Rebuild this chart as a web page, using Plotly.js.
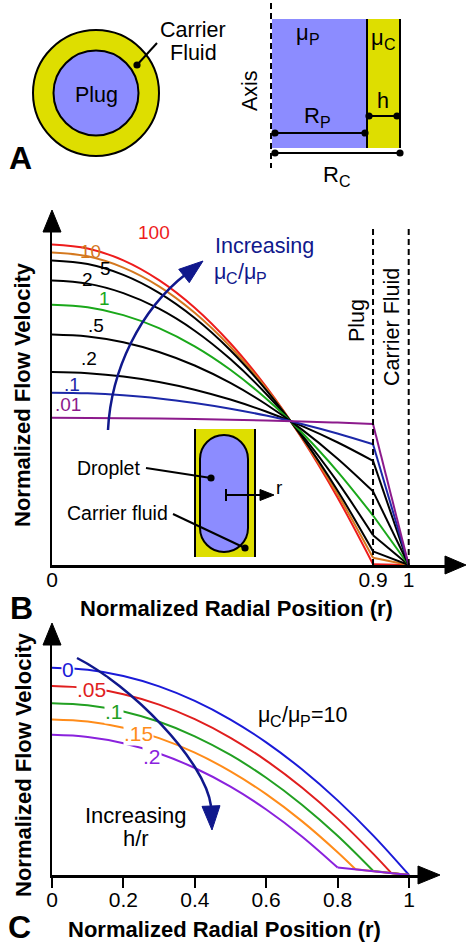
<!DOCTYPE html>
<html><head><meta charset="utf-8">
<script src="https://cdn.plot.ly/plotly-3.0.1.min.js"></script>
<style>html,body{margin:0;padding:0;background:#fff;}#chart{width:466px;height:945px;}</style>
</head><body><div id="chart"></div>
<script>
// ---------- DATA ----------
// Panel B: normalized velocity vs radial position for viscosity ratios muC/muP
const rB = [0, 0.1, 0.2, 0.3, 0.4, 0.5, 0.6, 0.7, 0.8, 0.9, 1.0];
const ratioLabels = ['100', '10', '5', '2', '1', '.5', '.2', '.1', '.01'];
const vB100 = [2.462, 2.432, 2.341, 2.189, 1.977, 1.704, 1.370, 0.976, 0.521, 0.006, 0];
const vB10  = [2.401, 2.372, 2.285, 2.141, 1.938, 1.677, 1.359, 0.982, 0.547, 0.055, 0];
const vB5   = [2.340, 2.312, 2.229, 2.091, 1.898, 1.650, 1.346, 0.988, 0.574, 0.105, 0];
const vB2   = [2.186, 2.162, 2.089, 1.969, 1.800, 1.582, 1.316, 1.002, 0.640, 0.229, 0];
const vB1   = [2.000, 1.980, 1.920, 1.820, 1.680, 1.500, 1.280, 1.020, 0.720, 0.380, 0];
const vB05  = [1.771, 1.756, 1.712, 1.637, 1.533, 1.399, 1.235, 1.042, 0.819, 0.566, 0];
const vB02  = [1.482, 1.473, 1.448, 1.406, 1.347, 1.271, 1.179, 1.069, 0.943, 0.800, 0];
const vB01  = [1.324, 1.319, 1.304, 1.280, 1.245, 1.201, 1.148, 1.084, 1.011, 0.928, 0];
const vB001 = [1.131, 1.130, 1.128, 1.125, 1.121, 1.116, 1.110, 1.103, 1.094, 1.084, 0];
const plugEdgeB = 0.9;               // plug / carrier interface
const xTicksB = [0, 0.9, 1];
const xTickTextB = ['0', '0.9', '1'];

// Panel C: normalized velocity for film thickness h/r (muC/muP = 10)
const hLabels = ['0', '.05', '.1', '.15', '.2'];
const plugEdgeC = [1.0, 0.95, 0.9, 0.85, 0.8];
const rC0   = [0, 0.1, 0.2, 0.3, 0.4, 0.5, 0.6, 0.7, 0.8, 0.9, 1.0];
const vC0   = [1.000, 0.990, 0.960, 0.910, 0.840, 0.750, 0.640, 0.510, 0.360, 0.190, 0];
const rC05  = [0, 0.1, 0.2, 0.3, 0.4, 0.5, 0.6, 0.7, 0.8, 0.9, 0.95, 1.0];
const vC05  = [0.912, 0.902, 0.872, 0.822, 0.752, 0.662, 0.552, 0.422, 0.272, 0.102, 0.010, 0];
const rC10  = [0, 0.1, 0.2, 0.3, 0.4, 0.5, 0.6, 0.7, 0.8, 0.9, 1.0];
const vC10  = [0.829, 0.819, 0.789, 0.739, 0.669, 0.579, 0.469, 0.339, 0.189, 0.019, 0];
const rC15  = [0, 0.1, 0.2, 0.3, 0.4, 0.5, 0.6, 0.7, 0.8, 0.85, 0.9, 0.95, 1.0];
const vC15  = [0.750, 0.740, 0.710, 0.660, 0.590, 0.500, 0.390, 0.260, 0.110, 0.028, 0.019, 0.010, 0];
const rC20  = [0, 0.1, 0.2, 0.3, 0.4, 0.5, 0.6, 0.7, 0.8, 0.9, 1.0];
const vC20  = [0.676, 0.666, 0.636, 0.586, 0.516, 0.426, 0.316, 0.186, 0.036, 0.019, 0];
const xTicksC = [0, 0.2, 0.4, 0.6, 0.8, 1];
const xTickTextC = ['0', '0.2', '0.4', '0.6', '0.8', '1'];

// ---------- STYLE / GEOMETRY ----------
const W = 466, H = 945;
const px = x => x / W, py = y => 1 - y / H;
const FONTNAME = 'Liberation Sans';
const FONT = 'Liberation Sans, Arial, Helvetica, sans-serif';
const YEL = '#dede00', BLU = '#8c8cff', NAVY = '#10188c';
const colB = ['#ee1c1c', '#d4781e', '#000000', '#000000', '#1aa81a', '#000000', '#000000', '#1c28a8', '#8c1a8c'];
const colC = ['#1a1ad8', '#e01e1e', '#22a022', '#ff8c1a', '#8a22dd'];

const Bf = {x0: 52, sx: 356.7, y0: 565, sy: 130.15, xEnd: 448, yTop: 222};
const Cf = {x0: 52, sx: 357, y0: 875, sy: 207.3, xEnd: 422, yTop: 640};

const traces = [];
// each profile: smooth inside the plug, straight through the thin carrier film
function addProfile(r, v, edge, color, xa, ya, name) {
  const pr = [], pv = [], cr = [], cv = [];
  r.forEach((x, i) => {
    if (x <= edge + 1e-9) { pr.push(x); pv.push(v[i]); }
    if (x >= edge - 1e-9) { cr.push(x); cv.push(v[i]); }
  });
  traces.push({x: pr, y: pv, xaxis: xa, yaxis: ya, mode: 'lines', name: name,
    line: {color: color, width: 2, shape: 'spline', smoothing: 1}, hoverinfo: 'skip'});
  if (cr.length > 1) traces.push({x: cr, y: cv, xaxis: xa, yaxis: ya, mode: 'lines', name: name,
    line: {color: color, width: 2}, hoverinfo: 'skip'});
}
const seriesB = [vB100, vB10, vB5, vB2, vB1, vB05, vB02, vB01, vB001];
seriesB.forEach((v, i) => addProfile(rB, v, plugEdgeB, colB[i], 'x', 'y', ratioLabels[i]));
const seriesC = [[rC0, vC0], [rC05, vC05], [rC10, vC10], [rC15, vC15], [rC20, vC20]];
seriesC.forEach((s, i) => addProfile(s[0], s[1], plugEdgeC[i], colC[i], 'x2', 'y2', hLabels[i]));

// ---------- shape helpers (pixel -> paper) ----------
const shapes = [];
function rect(x0, y0, x1, y1, fill) {
  shapes.push({type: 'rect', xref: 'paper', yref: 'paper', x0: px(x0), x1: px(x1), y0: py(y1), y1: py(y0),
    fillcolor: fill, line: {width: 0}});
}
function seg(x0, y0, x1, y1, color, width, dash) {
  shapes.push({type: 'line', xref: 'paper', yref: 'paper', x0: px(x0), y0: py(y0), x1: px(x1), y1: py(y1),
    line: {color: color || '#000', width: width || 2, dash: dash || 'solid'}});
}
function circ(cx, cy, r, fill, lc, lw) {
  shapes.push({type: 'circle', xref: 'paper', yref: 'paper', x0: px(cx - r), x1: px(cx + r), y0: py(cy + r), y1: py(cy - r),
    fillcolor: fill, line: {color: lc || fill, width: lw === undefined ? 0 : lw}});
}
function dot(cx, cy) { circ(cx, cy, 3.6, '#000', '#000', 0); }
function path(cmds, fill, lc, lw) {
  let s = '';
  cmds.forEach(c => {
    s += c[0];
    for (let k = 1; k < c.length; k += 2) s += (k > 1 ? ' ' : '') + px(c[k]) + ',' + py(c[k + 1]);
    s += ' ';
  });
  shapes.push({type: 'path', xref: 'paper', yref: 'paper', path: s.trim(),
    fillcolor: fill || 'rgba(0,0,0,0)', line: {color: lc || '#000', width: lw === undefined ? 2 : lw}});
}
function tri(tx, ty, bx, by, hw, color) {
  const dx = tx - bx, dy = ty - by, L = Math.hypot(dx, dy);
  const nx = -dy / L * hw, ny = dx / L * hw;
  path([['M', tx, ty], ['L', bx + nx, by + ny], ['L', bx - nx, by - ny], ['Z']], color, color, 1);
}

// ---------- annotation helpers ----------
const anns = [];
function txt(t, x, y, o) {
  o = o || {};
  anns.push({text: t, xref: 'paper', yref: 'paper', x: px(x), y: py(y), showarrow: false,
    xanchor: o.xa || 'center', yanchor: o.ya || 'middle', textangle: o.rot || 0,
    font: {family: FONT, size: o.size || 20, color: o.color || '#000'},
    bgcolor: o.bg || 'rgba(0,0,0,0)', borderpad: o.bp === undefined ? 1 : o.bp});
}
const ctx = document.createElement('canvas').getContext('2d');
function tw(t, size) { ctx.font = size + 'px "' + FONTNAME + '"'; return ctx.measureText(t).width; }
// text with subscripts: parts = [[text, isSub], ...]; x = left edge, base = baseline (px)
function rich(x, base, parts, size, color, subBase) {
  const ss = Math.round(size * 0.74);
  let cx = x;
  parts.forEach(p => {
    const s = p[1] ? ss : size;
    const b = p[1] ? subBase : base;
    anns.push({text: p[0], xref: 'paper', yref: 'paper', x: px(cx), y: py(b - 0.347 * s), showarrow: false,
      xanchor: 'left', yanchor: 'middle', font: {family: FONT, size: s, color: color || '#000'},
      borderpad: 0});
    cx += tw(p[0], s);
  });
}

// ---------- Panel A ----------
circ(96, 93, 63, YEL, '#000', 2);
circ(96, 93, 42.5, BLU, '#000', 2);
txt('Plug', 96, 95, {size: 21.5});
txt('Carrier', 193, 30, {size: 21.5});
txt('Fluid', 193, 53, {size: 21.5});
seg(157, 43, 137, 65, '#000', 2);
dot(137, 65);
txt('<b>A</b>', 20, 158, {size: 32});

rect(272, 19, 367, 148, BLU);
rect(367, 19, 400, 148, YEL);
seg(367, 19, 367, 148, '#000', 2);
seg(400, 19, 400, 148, '#000', 2);
seg(271, 3, 271, 168, '#000', 2, '6px,4px');
seg(275, 133, 365, 133, '#000', 2); dot(275, 133); dot(365, 133);
seg(369, 116, 397, 116, '#000', 2); dot(369, 116); dot(397, 116);
seg(275, 153, 400, 153, '#000', 2); dot(275, 153); dot(400, 153);
rich(295, 40, [['μ', 0], ['P', 1]], 22, '#000', 45);
rich(370, 45, [['μ', 0], ['C', 1]], 22, '#000', 50);
txt('Axis', 250, 90, {size: 21.5, rot: -90});
rich(303, 123, [['R', 0], ['P', 1]], 22, '#000', 128);
txt('h', 383, 101, {size: 21.5});
rich(322, 182, [['R', 0], ['C', 1]], 22, '#000', 187);

// ---------- Panel B ----------
[0.9, 1].forEach(xv => shapes.push({type: 'line', xref: 'x', yref: 'y', x0: xv, x1: xv, y0: 0,
  y1: (Bf.y0 - 225) / Bf.sy, line: {color: '#000', width: 2, dash: '6px,4px'}}));
tri(52, 210, 52, 232, 9, '#000');
tri(466, 565, 445, 565, 9, '#000');
rect(195, 429, 255, 557, YEL);
seg(195, 429, 195, 557, '#000', 2);
seg(255, 429, 255, 557, '#000', 2);
const k = 13.25;
path([['M', 200, 459], ['C', 200, 459 - k, 224 - k, 435, 224, 435], ['C', 224 + k, 435, 248, 459 - k, 248, 459],
  ['L', 248, 528], ['C', 248, 528 + k, 224 + k, 552, 224, 552], ['C', 224 - k, 552, 200, 528 + k, 200, 528], ['Z']],
  BLU, '#000', 2);
txt('Droplet', 108, 468, {size: 19.5});
seg(146, 468, 211, 478, '#000', 2); dot(211, 478);
txt('Carrier fluid', 117, 513, {size: 19.5});
seg(173, 514, 245, 548, '#000', 2); dot(245, 548);
seg(226, 489, 226, 501, '#000', 2);
seg(226, 495, 262, 495, '#000', 2);
tri(274, 495, 260, 495, 5.5, '#000');
txt('r', 279, 487, {size: 19});
path([['M', 108, 430], ['C', 111, 370, 140, 310, 186, 274]], null, NAVY, 2.5);
tri(203, 261, 184, 276, 8.5, NAVY);
txt('Increasing', 213, 246, {size: 21.5, color: NAVY, xa: 'left'});
rich(213, 279, [['μ', 0], ['C', 1], ['/μ', 0], ['P', 1]], 21.5, NAVY, 284);
txt('Plug', 357, 321, {size: 21.5, rot: -90});
txt('Carrier Fluid', 392, 327, {size: 21.5, rot: -90});
const labPosB = [[154, 233], [90, 251], [105, 268], [87, 279], [104, 298], [96, 325], [89, 358], [72, 384], [68, 404]];
ratioLabels.forEach((l, i) => txt(l, labPosB[i][0], labPosB[i][1], {size: 19, color: colB[i]}));
txt('<b>Normalized Flow Velocity</b>', 23, 395, {size: 22, rot: -90});
txt('<b>Normalized Radial Position (r)</b>', 237, 608, {size: 22});
txt('<b>B</b>', 21, 608, {size: 32});

// ---------- Panel C ----------
tri(52, 623, 52, 645, 9, '#000');
tri(440, 875, 418, 875, 9, '#000');
path([['M', 77, 658], ['C', 130, 685, 205, 760, 211, 806]], null, NAVY, 2.5);
tri(212, 830, 211, 806, 9, NAVY);
const labPosC = [[68, 669], [91, 689], [114, 711], [138, 733], [152, 756]];
hLabels.forEach((l, i) => txt(l, labPosC[i][0], labPosC[i][1], {size: 21, color: colC[i], bg: '#fff', bp: 0}));
rich(257, 722, [['μ', 0], ['C', 1], ['/μ', 0], ['P', 1], ['=10', 0]], 21.5, '#000', 727);
txt('Increasing', 136, 815, {size: 22});
txt('h/r', 136, 838, {size: 22});
txt('<b>Normalized Flow Velocity</b>', 23, 765, {size: 22, rot: -90});
txt('<b>Normalized Radial Position (r)</b>', 224, 929, {size: 22});
txt('<b>C</b>', 19, 927, {size: 32});

const axBase = {showgrid: false, zeroline: false, showline: true, linecolor: '#000', linewidth: 2.5, fixedrange: true};
const layout = {
  width: W, height: H, margin: {l: 0, r: 0, t: 0, b: 0},
  paper_bgcolor: '#fff', plot_bgcolor: 'rgba(0,0,0,0)', showlegend: false,
  font: {family: FONT, color: '#000', size: 20},
  xaxis: Object.assign({}, axBase, {domain: [px(Bf.x0), px(Bf.xEnd)], range: [0, (Bf.xEnd - Bf.x0) / Bf.sx], anchor: 'y',
    tickmode: 'array', tickvals: xTicksB, ticktext: xTickTextB, ticks: '', ticklabelstandoff: -6,
    tickfont: {size: 21, family: FONT}}),
  yaxis: Object.assign({}, axBase, {domain: [py(Bf.y0), py(Bf.yTop)], range: [0, (Bf.y0 - Bf.yTop) / Bf.sy], anchor: 'x',
    showticklabels: false, ticks: ''}),
  xaxis2: Object.assign({}, axBase, {domain: [px(Cf.x0), px(Cf.xEnd)], range: [0, (Cf.xEnd - Cf.x0) / Cf.sx], anchor: 'y2',
    tickmode: 'array', tickvals: xTicksC, ticktext: xTickTextC, ticks: 'outside', ticklen: 10, tickwidth: 2, tickcolor: '#000',
    ticklabelstandoff: -6, tickfont: {size: 21, family: FONT}}),
  yaxis2: Object.assign({}, axBase, {domain: [py(Cf.y0), py(Cf.yTop)], range: [0, (Cf.y0 - Cf.yTop) / Cf.sy], anchor: 'x2',
    showticklabels: false, ticks: ''}),
  shapes: shapes, annotations: anns
};
Plotly.newPlot('chart', traces, layout, {staticPlot: true, displayModeBar: false});
</script></body></html>
